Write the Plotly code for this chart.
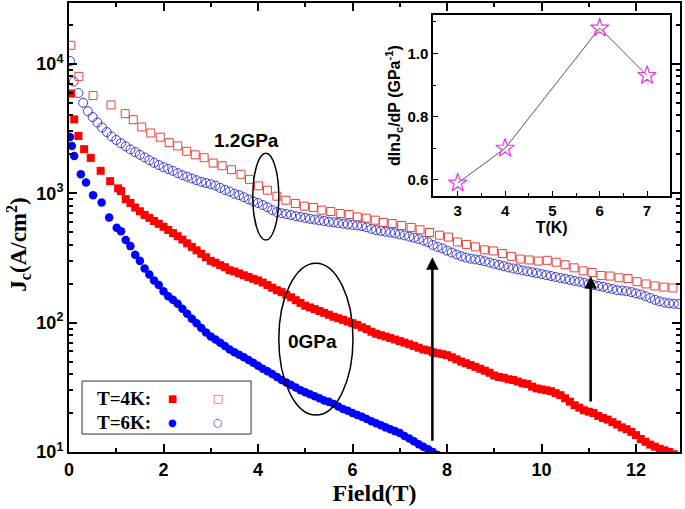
import math
import plotly.graph_objects as go

# ---------------- data ----------------
# T=4K, 0 GPa (filled red squares)
field_4k_0 = [0.04, 0.11, 0.20, 0.32, 0.46, 0.67, 0.87, 1.04,
              1.1, 1.2, 1.3, 1.4, 1.5, 1.6, 1.7, 1.8, 1.9,
              2.0, 2.1, 2.2, 2.3, 2.4, 2.5, 2.6, 2.7, 2.8, 2.9,
              3.0, 3.1, 3.2, 3.3, 3.4, 3.5, 3.6, 3.7, 3.8, 3.9,
              4.0, 4.1, 4.2, 4.3, 4.4, 4.5, 4.6, 4.7, 4.8, 4.9,
              5.0, 5.1, 5.2, 5.3, 5.4, 5.5, 5.6, 5.7, 5.8, 5.9,
              6.0, 6.1, 6.2, 6.3, 6.4, 6.5, 6.6, 6.7, 6.8, 6.9,
              7.0, 7.1, 7.2, 7.3, 7.4, 7.5, 7.6, 7.7, 7.8, 7.9,
              8.0, 8.1, 8.2, 8.3, 8.4, 8.5, 8.6, 8.7, 8.8, 8.9,
              9.0, 9.1, 9.2, 9.3, 9.4, 9.5, 9.6, 9.7, 9.8, 9.9,
              10.0, 10.1, 10.2, 10.3, 10.4, 10.5, 10.6, 10.7, 10.8, 10.9,
              11.0, 11.1, 11.2, 11.3, 11.4, 11.5, 11.6, 11.7, 11.8, 11.9,
              12.0, 12.1, 12.2, 12.3, 12.4, 12.5, 12.6, 12.7, 12.8, 12.9]
jc_4k_0 = [5890, 3720, 2770, 2190, 1875, 1490, 1240, 1090,
           1040, 900, 840, 775, 725, 680, 645, 610, 580,
           550, 520, 492, 465, 438, 410, 385, 362, 340, 320,
           300, 290, 278, 268, 254, 248, 240, 232, 225, 218,
           212, 204, 195, 186, 178, 172, 164, 157, 149, 142,
           135, 131, 127, 123, 119, 115, 111, 108, 105, 102,
           99, 96, 92, 89, 85, 82, 80, 78, 76, 74,
           72, 70, 68, 66, 64, 62, 61, 59, 58, 57,
           56, 54, 52, 50, 48.5, 47, 45.5, 44, 42.5, 41,
           39, 38, 37.5, 36.5, 36, 35, 34, 33.5, 32, 31,
           30.5, 30, 29.5, 28.5, 27.5, 26, 24.5, 23, 22, 21,
           20.5, 20, 19, 18.3, 17.8, 17, 16.3, 15.5, 15, 14.3,
           13.5, 12.6, 12, 11.4, 11, 10.6, 10.3, 10, 9.6, 9.2]

# T=6K, 0 GPa (filled blue circles)
field_6k_0 = [0.02, 0.06, 0.11, 0.25, 0.36, 0.51, 0.69, 0.85, 1.01, 1.10,
              1.2, 1.3, 1.4, 1.5, 1.6, 1.7, 1.8, 1.9,
              2.0, 2.1, 2.2, 2.3, 2.4, 2.5, 2.6, 2.7, 2.8, 2.9,
              3.0, 3.1, 3.2, 3.3, 3.4, 3.5, 3.6, 3.7, 3.8, 3.9,
              4.0, 4.1, 4.2, 4.3, 4.4, 4.5, 4.6, 4.7, 4.8, 4.9,
              5.0, 5.1, 5.2, 5.3, 5.4, 5.5, 5.6, 5.7, 5.8, 5.9,
              6.0, 6.1, 6.2, 6.3, 6.4, 6.5, 6.6, 6.7, 6.8, 6.9,
              7.0, 7.1, 7.2, 7.3, 7.4, 7.5, 7.6, 7.7, 7.8]
jc_6k_0 = [2720, 2320, 1940, 1400, 1210, 965, 848, 649, 540, 509,
           435, 390, 335, 300, 262, 235, 212, 195,
           175, 160, 150, 140, 128, 117, 107, 99, 91, 84,
           78, 74, 70, 66, 62, 59, 56.5, 54, 51.5, 49,
           46.5, 44, 42, 40, 38, 36, 34.5, 33, 31.5, 30,
           29, 28, 27, 26, 25, 24.4, 23.5, 22.5, 21.5, 20.8,
           20, 19.3, 18.7, 18, 17.3, 16.7, 16.1, 15.5, 15, 14.5,
           14, 13.3, 12.7, 12.1, 11.5, 11, 10.5, 10, 9.5]

# T=4K, 1.2 GPa (open red squares)
field_4k_12 = [0.04, 0.21, 0.51, 0.89, 1.19, 1.36, 1.54, 1.73, 1.93, 2.12,
               2.30, 2.49, 2.67, 2.86, 3.05, 3.24, 3.44, 3.64, 3.82, 4.01,
               4.20, 4.40, 4.59, 4.79, 4.98, 5.17, 5.35, 5.54, 5.74, 5.93,
               6.10, 6.29, 6.48, 6.65, 6.84, 7.04, 7.24, 7.43, 7.63, 7.84,
               8.03, 8.22, 8.41, 8.60, 8.79, 8.98, 9.17, 9.36, 9.55, 9.74,
               9.93, 10.12, 10.31, 10.50, 10.69, 10.88, 11.07, 11.26, 11.45, 11.64,
               11.83, 12.02, 12.21, 12.40, 12.59, 12.78]
jc_4k_12 = [13900, 8000, 5680, 4810, 4120, 3700, 3250, 2920, 2710, 2460,
            2320, 2110, 1980, 1880, 1710, 1630, 1520, 1400, 1280, 1140,
            1055, 948, 883, 832, 794, 776, 739, 722, 697, 684,
            656, 641, 619, 594, 583, 563, 544, 521, 497, 474,
            458, 420, 402, 385, 365, 358, 342, 325, 310, 305,
            299, 303, 293, 280, 265, 251, 244, 231, 229, 222,
            219, 207, 199, 192, 188, 185]

# T=6K, 1.2 GPa (open blue circles)
field_6k_12 = [0.02, 0.1, 0.2, 0.3, 0.4, 0.5, 0.6, 0.7, 0.8, 0.9,
               1.0, 1.1, 1.2, 1.3, 1.4, 1.5, 1.6, 1.7, 1.8, 1.9,
               2.0, 2.1, 2.2, 2.3, 2.4, 2.5, 2.6, 2.7, 2.8, 2.9,
               3.0, 3.1, 3.2, 3.3, 3.4, 3.5, 3.6, 3.7, 3.8, 3.9,
               4.0, 4.1, 4.2, 4.3, 4.4, 4.5, 4.6, 4.7, 4.8, 4.9,
               5.0, 5.1, 5.2, 5.3, 5.4, 5.5, 5.6, 5.7, 5.8, 5.9,
               6.0, 6.1, 6.2, 6.3, 6.4, 6.5, 6.6, 6.7, 6.8, 6.9,
               7.0, 7.1, 7.2, 7.3, 7.4, 7.5, 7.6, 7.7, 7.8, 7.9,
               8.0, 8.1, 8.2, 8.3, 8.4, 8.5, 8.6, 8.7, 8.8, 8.9,
               9.0, 9.1, 9.2, 9.3, 9.4, 9.5, 9.6, 9.7, 9.8, 9.9,
               10.0, 10.1, 10.2, 10.3, 10.4, 10.5, 10.6, 10.7, 10.8, 10.9,
               11.0, 11.1, 11.2, 11.3, 11.4, 11.5, 11.6, 11.7, 11.8, 11.9,
               12.0, 12.1, 12.2, 12.3, 12.4, 12.5, 12.6, 12.7, 12.8, 12.9]
jc_6k_12 = [10500, 7300, 5950, 5000, 4300, 3880, 3520, 3220, 2970, 2750,
            2580, 2430, 2300, 2180, 2080, 1980, 1890, 1800, 1720, 1650,
            1590, 1540, 1490, 1430, 1380, 1340, 1300, 1260, 1225, 1200,
            1175, 1145, 1100, 1060, 1030, 990, 965, 930, 895, 865,
            840, 810, 780, 740, 715, 700, 690, 678, 665, 655,
            645, 634, 626, 618, 610, 602, 595, 588, 581, 575,
            569, 563, 557, 545, 530, 518, 511, 504, 497, 490,
            481, 472, 462, 453, 442, 430, 418, 398, 385, 375,
            360, 348, 336, 326, 318, 312, 308, 304, 298, 291,
            285, 279, 273, 267, 262, 258, 253, 249, 245, 241,
            237, 233, 229, 225, 221, 218, 214, 210, 207, 203,
            198, 195, 192, 189, 185, 182, 178, 177, 175, 172,
            168, 165, 160, 155, 150, 146, 143, 141, 140, 139]

# inset: dlnJc/dP vs T
inset_T = [3, 4, 6, 7]
inset_dlnjc = [0.59, 0.70, 1.08, 0.93]

# tick labels / texts
y_tick_vals = [10, 100, 1000, 10000]
y_tick_text = ["10<sup>1</sup>", "10<sup>2</sup>", "10<sup>3</sup>", "10<sup>4</sup>"]
legend_rows = ["T=4K:", "T=6K:"]

for a, b in [(field_4k_0, jc_4k_0), (field_6k_0, jc_6k_0),
             (field_4k_12, jc_4k_12), (field_6k_12, jc_6k_12)]:
    assert len(a) == len(b), (len(a), len(b))

# ---------------- figure ----------------
SANS = "Liberation Sans"
SERIF = "Liberation Serif"

fig = go.Figure()

fig.add_trace(go.Scatter(x=field_6k_12, y=jc_6k_12, mode="markers", showlegend=False,
                         marker=dict(symbol="circle-open", size=9, color="#3a3ad8",
                                     line=dict(width=1, color="#3a3ad8"))))
fig.add_trace(go.Scatter(x=field_4k_12, y=jc_4k_12, mode="markers", showlegend=False,
                         marker=dict(symbol="square-open", size=8, color="#e8403a",
                                     line=dict(width=1, color="#e8403a"))))
fig.add_trace(go.Scatter(x=field_4k_0, y=jc_4k_0, mode="markers", showlegend=False,
                         marker=dict(symbol="square", size=8, color="#ff0000",
                                     line=dict(width=0))))
fig.add_trace(go.Scatter(x=field_6k_0, y=jc_6k_0, mode="markers", showlegend=False,
                         marker=dict(symbol="circle", size=8.5, color="#0000ff",
                                     line=dict(width=0))))

# inset
fig.add_trace(go.Scatter(x=inset_T, y=inset_dlnjc, mode="lines+markers", showlegend=False,
                         xaxis="x2", yaxis="y2",
                         line=dict(color="#555555", width=1),
                         marker=dict(symbol="star-open", size=14, color="#ee33ee",
                                     line=dict(width=1.2, color="#ee33ee"))))

axis_common = dict(showline=True, linewidth=2, linecolor="black", mirror="allticks",
                   ticks="inside", tickwidth=1.5, tickcolor="black", showgrid=False,
                   zeroline=False, automargin=False)

fig.update_layout(
    width=685, height=509,
    margin=dict(l=69, r=5, t=3, b=57, autoexpand=False),
    paper_bgcolor="white", plot_bgcolor="white",
    xaxis=dict(range=[0, 12.93], tick0=0, dtick=2, ticklen=8,
               minor=dict(dtick=1, ticks="inside", ticklen=4, tickwidth=1.5, tickcolor="black"),
               tickfont=dict(family=SANS, size=18, color="black", weight="bold"),
               title=dict(text="Field(T)", standoff=4,
                          font=dict(family=SERIF, size=24, color="black", weight="bold")),
               **axis_common),
    yaxis=dict(type="log", range=[1, 4.47], tickvals=y_tick_vals, ticktext=y_tick_text,
               ticklen=8,
               minor=dict(dtick="D1", ticks="inside", ticklen=4, tickwidth=1.5, tickcolor="black"),
               tickfont=dict(family=SANS, size=18, color="black", weight="bold"),
               **axis_common),
    xaxis2=dict(domain=[0.596, 0.984], anchor="y2", range=[2.48, 7.49], dtick=1, ticklen=5,
                minor=dict(dtick=0.5, ticks="inside", ticklen=3, tickwidth=1, tickcolor="black"),
                tickfont=dict(family=SANS, size=15, color="black", weight="bold"),
                title=dict(text="T(K)", standoff=0,
                           font=dict(family=SANS, size=16, color="black", weight="bold")),
                showline=True, linewidth=1.5, linecolor="black", mirror=True, automargin=False,
                ticks="inside", tickwidth=1, tickcolor="black", showgrid=False, zeroline=False),
    yaxis2=dict(domain=[0.570, 0.973], anchor="x2", range=[0.549, 1.121], dtick=0.2,
                tickformat=".1f", ticklen=5,
                minor=dict(dtick=0.1, ticks="inside", ticklen=3, tickwidth=1, tickcolor="black"),
                tickfont=dict(family=SANS, size=15, color="black", weight="bold"),
                title=dict(text="dlnJ<sub>c</sub>/dP (GPa<sup>-1</sup>)", standoff=3,
                           font=dict(family=SANS, size=16, color="black", weight="bold")),
                showline=True, linewidth=1.5, linecolor="black", mirror=True, automargin=False,
                ticks="inside", tickwidth=1, tickcolor="black", showgrid=False, zeroline=False),
)

def paper_text(text, x, y, font, **kw):
    fig.add_annotation(text=text, xref="paper", yref="paper", x=x, y=y, showarrow=False,
                       xanchor=kw.pop("xanchor", "center"), yanchor="middle", font=font, **kw)

# main y-axis title (rotated text, slightly below axis centre as in the original)
paper_text("J<sub>c</sub>(A/cm<sup>2</sup>)", -0.084, 0.461,
           dict(family=SERIF, size=23, color="black", weight="bold"), textangle=-90)

# white background for inset
fig.add_shape(type="rect", xref="x2 domain", yref="y2 domain", x0=0, x1=1, y0=0, y1=1,
              fillcolor="white", line=dict(width=0), layer="below")

# ellipses (data coordinates)
fig.add_shape(type="circle", xref="x", yref="y", x0=3.89, x1=4.44, y0=434, y1=2040,
              line=dict(color="black", width=1.5))
fig.add_shape(type="circle", xref="x", yref="y", x0=4.44, x1=6.01, y0=19.3, y1=288,
              line=dict(color="black", width=1.5))

# labels
paper_text("1.2GPa", 0.291, 0.693, dict(family=SANS, size=19, color="black", weight="bold"))
paper_text("0GPa", 0.399, 0.245, dict(family=SANS, size=19, color="black", weight="bold"))

# arrows
for xa, y_tail, y_head in [(7.69, 11.9, 320), (11.04, 23.9, 229)]:
    fig.add_annotation(x=xa, y=math.log10(y_head), ax=xa, ay=math.log10(y_tail),
                       xref="x", yref="y", axref="x", ayref="y", text="",
                       showarrow=True, arrowhead=2, arrowsize=1, arrowwidth=2.5,
                       arrowcolor="black")

# legend box drawn manually
fig.add_shape(type="rect", xref="paper", yref="paper", x0=0.0213, x1=0.298, y0=0.040, y1=0.158,
              line=dict(color="#333333", width=1), fillcolor="white")
for row, yy in zip(legend_rows, [0.120, 0.0646]):
    paper_text(row, 0.042, yy, dict(family=SERIF, size=19, color="black", weight="bold"),
               xanchor="left")
paper_text("■", 0.170, 0.120, dict(family="DejaVu Sans", size=10, color="#ff0000"))
paper_text("□", 0.244, 0.120, dict(family="DejaVu Sans", size=11, color="#e8403a"))
paper_text("●", 0.170, 0.0646, dict(family="DejaVu Sans", size=10, color="#0000ff"))
paper_text("○", 0.244, 0.0646, dict(family="DejaVu Sans", size=11, color="#3a3ad8"))

fig.write_html("out.html", config={"displayModeBar": False},
               post_script="document.body.style.margin='0';document.body.style.overflow='hidden';")
